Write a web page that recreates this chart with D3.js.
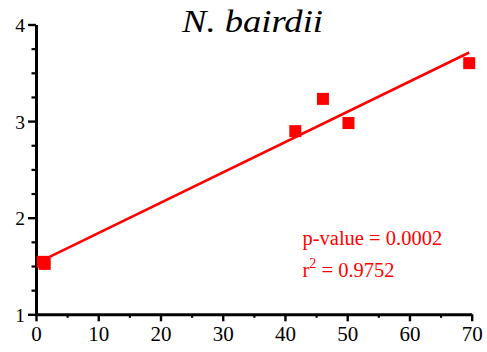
<!DOCTYPE html>
<html>
<head>
<meta charset="utf-8">
<script src="https://cdn.jsdelivr.net/npm/d3@7"></script>
<style>
  body { margin: 0; background: #fff; }
  svg { display: block; }
</style>
</head>
<body>
<div id="chart"></div>
<script>
// values
const xValues = [1.08, 1.40, 41.66, 46.1, 50.2, 69.6];
const yValues = [1.543, 1.522, 2.896, 3.23, 2.98, 3.60];
const fitX = [1.1, 69.6];
const fitY = [1.56, 3.71];
const xTicks = [0, 10, 20, 30, 40, 50, 60, 70];
const xMinor = [5, 15, 25, 35, 45, 55, 65];
const yTicks = [1, 2, 3, 4];
const yMinor = [1.25, 1.5, 1.75, 2.25, 2.5, 2.75, 3.25, 3.5, 3.75];
const title = 'N. bairdii';
const pText = 'p-value = 0.0002';
const r2Text = ' = 0.9752';

const width = 487, height = 352;
const serif = "'Liberation Serif'";

const svg = d3.select('#chart').append('svg')
  .attr('width', width)
  .attr('height', height);

const x = d3.scaleLinear().domain([0, 70]).range([36, 471.7]);
const y = d3.scaleLinear().domain([1, 4]).range([314.3, 24.5]);

// minor ticks
svg.append('g')
  .attr('transform', `translate(0, ${y(1)})`)
  .call(d3.axisBottom(x).tickValues(xMinor).tickSize(3.5).tickFormat(''))
  .call(g => g.select('.domain').remove())
  .selectAll('line').attr('stroke', '#000').attr('stroke-width', 2.2);

svg.append('g')
  .attr('transform', `translate(${x(0)}, 0)`)
  .call(d3.axisLeft(y).tickValues(yMinor).tickSize(4.5).tickFormat(''))
  .call(g => g.select('.domain').remove())
  .selectAll('line').attr('stroke', '#000').attr('stroke-width', 2.2);

// major axes
const xAxis = svg.append('g')
  .attr('transform', `translate(0, ${y(1)})`)
  .call(d3.axisBottom(x).tickValues(xTicks).tickFormat(d3.format('d'))
    .tickSize(7).tickSizeOuter(0).tickPadding(5));
xAxis.select('.domain').attr('stroke', '#000').attr('stroke-width', 3);
xAxis.selectAll('line').attr('stroke', '#000').attr('stroke-width', 2.4);
xAxis.selectAll('text').attr('fill', '#000').attr('font-size', 21)
  .style('font-family', serif);

const yAxis = svg.append('g')
  .attr('transform', `translate(${x(0)}, 0)`)
  .call(d3.axisLeft(y).tickValues(yTicks).tickFormat(d3.format('d'))
    .tickSize(8).tickSizeOuter(0).tickPadding(3));
yAxis.select('.domain').attr('stroke', '#000').attr('stroke-width', 3);
yAxis.selectAll('line').attr('stroke', '#000').attr('stroke-width', 2.4);
yAxis.selectAll('text').attr('fill', '#000').attr('font-size', 19.5).attr('dy', '0.36em')
  .style('font-family', serif);

// fit line
const line = d3.line().x(d => x(d[0])).y(d => y(d[1]));
svg.append('path')
  .datum(d3.zip(fitX, fitY))
  .attr('d', line)
  .attr('fill', 'none')
  .attr('stroke', '#ff0000')
  .attr('stroke-width', 2.6);

// points
const s = 12;
svg.append('g')
  .selectAll('rect')
  .data(d3.zip(xValues, yValues))
  .join('rect')
  .attr('x', d => x(d[0]) - s / 2)
  .attr('y', d => y(d[1]) - s / 2)
  .attr('width', s)
  .attr('height', s)
  .attr('fill', '#ff0000');

// title (reference face is wider than Times italic, so stretch spacing)
svg.append('text')
  .attr('x', 182)
  .attr('y', 32)
  .style('font-family', serif)
  .style('font-style', 'italic')
  .attr('font-size', 31)
  .attr('textLength', 141)
  .attr('lengthAdjust', 'spacingAndGlyphs')
  .text(title);

// stats
const stats = svg.append('g')
  .attr('fill', '#ff0000');
stats.append('text')
  .attr('x', 302.5)
  .attr('y', 245)
  .attr('font-size', 20.5)
  .style('font-family', serif)
  .text(pText);
const r2 = stats.append('text')
  .attr('x', 302.5)
  .attr('y', 276.5)
  .attr('font-size', 20.5)
  .style('font-family', serif);
r2.append('tspan').text('r');
r2.append('tspan').attr('font-size', 14).attr('dy', -8.5).text('2');
r2.append('tspan').attr('dy', 8.5).text(r2Text);
</script>
</body>
</html>
